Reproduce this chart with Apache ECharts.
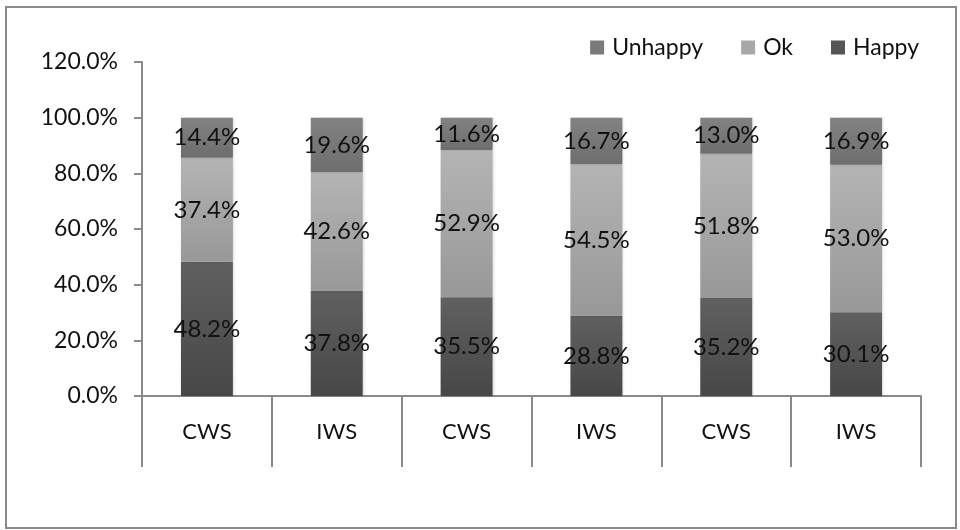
<!DOCTYPE html>
<html>
<head>
<meta charset="utf-8">
<script src="https://cdn.jsdelivr.net/npm/echarts@6/dist/echarts.min.js"></script>
<style>
  html, body { margin: 0; padding: 0; background: #fff; }
  #chart { width: 960px; height: 530px; }
</style>
</head>
<body>
<div id="chart"></div>
<script>
// data
var categories = ['CWS', 'IWS', 'CWS', 'IWS', 'CWS', 'IWS'];
var happy   = [48.2, 37.8, 35.5, 28.8, 35.2, 30.1];
var ok      = [37.4, 42.6, 52.9, 54.5, 51.8, 53.0];
var unhappy = [14.4, 19.6, 11.6, 16.7, 13.0, 16.9];
var yTicks  = [0, 20, 40, 60, 80, 100, 120];

var font = 'Lato, "Open Sans", sans-serif';

function grad(top, bottom) {
    return new echarts.graphic.LinearGradient(0, 0, 0, 1, [
        { offset: 0, color: top },
        { offset: 1, color: bottom }
    ]);
}

function pctLabel(p) {
    return p.value.toFixed(1) + '%';
}

function makeSeries(name, data, color) {
    return {
        name: name,
        type: 'bar',
        stack: 'all',
        barWidth: '40%',
        data: data,
        itemStyle: {
            color: color,
            shadowColor: 'rgba(0,0,0,0.18)',
            shadowBlur: 3,
            shadowOffsetX: 1
        },
        label: {
            show: true,
            position: 'inside',
            formatter: pctLabel,
            color: '#111',
            fontFamily: font,
            fontSize: 24
        },
        emphasis: { disabled: true }
    };
}

var chart = echarts.init(document.getElementById('chart'));
chart.setOption({
    animation: false,
    backgroundColor: '#fff',
    graphic: [{
        type: 'rect',
        shape: { x: 6, y: 7, width: 950, height: 521 },
        style: { fill: 'none', stroke: '#8a8a8a', lineWidth: 2 },
        silent: true,
        z: -1
    }],
    legend: {
        right: 36,
        top: 31,
        itemWidth: 14,
        itemHeight: 14,
        itemGap: 38,
        icon: 'rect',
        data: [
            { name: 'Unhappy', itemStyle: { color: '#7a7a7a' } },
            { name: 'Ok', itemStyle: { color: '#a8a8a8' } },
            { name: 'Happy', itemStyle: { color: '#555555' } }
        ],
        textStyle: { fontFamily: font, fontSize: 23, color: '#111', padding: [0, 0, 0, 3] }
    },
    grid: { left: 142, right: 39, top: 62, bottom: 134 },
    xAxis: {
        type: 'category',
        data: categories,
        axisLine: { lineStyle: { color: '#8a8a8a', width: 2 } },
        axisTick: { show: true, length: 71, lineStyle: { color: '#8a8a8a', width: 2 } },
        axisLabel: { fontFamily: font, fontSize: 22, color: '#111', margin: 25 }
    },
    yAxis: {
        type: 'value',
        min: yTicks[0],
        max: yTicks[yTicks.length - 1],
        interval: yTicks[1] - yTicks[0],
        splitLine: { show: false },
        axisLine: { show: true, lineStyle: { color: '#8a8a8a', width: 2 } },
        axisTick: { show: true, length: 8, lineStyle: { color: '#8a8a8a', width: 2 } },
        axisLabel: {
            fontFamily: font,
            fontSize: 23,
            color: '#111',
            margin: 24,
            formatter: function (v) { return v.toFixed(1) + '%'; }
        }
    },
    series: [
        makeSeries('Happy', happy, grad('#606060', '#474747')),
        makeSeries('Ok', ok, grad('#b4b4b4', '#989898')),
        makeSeries('Unhappy', unhappy, grad('#828282', '#6e6e6e'))
    ]
});
</script>
</body>
</html>
